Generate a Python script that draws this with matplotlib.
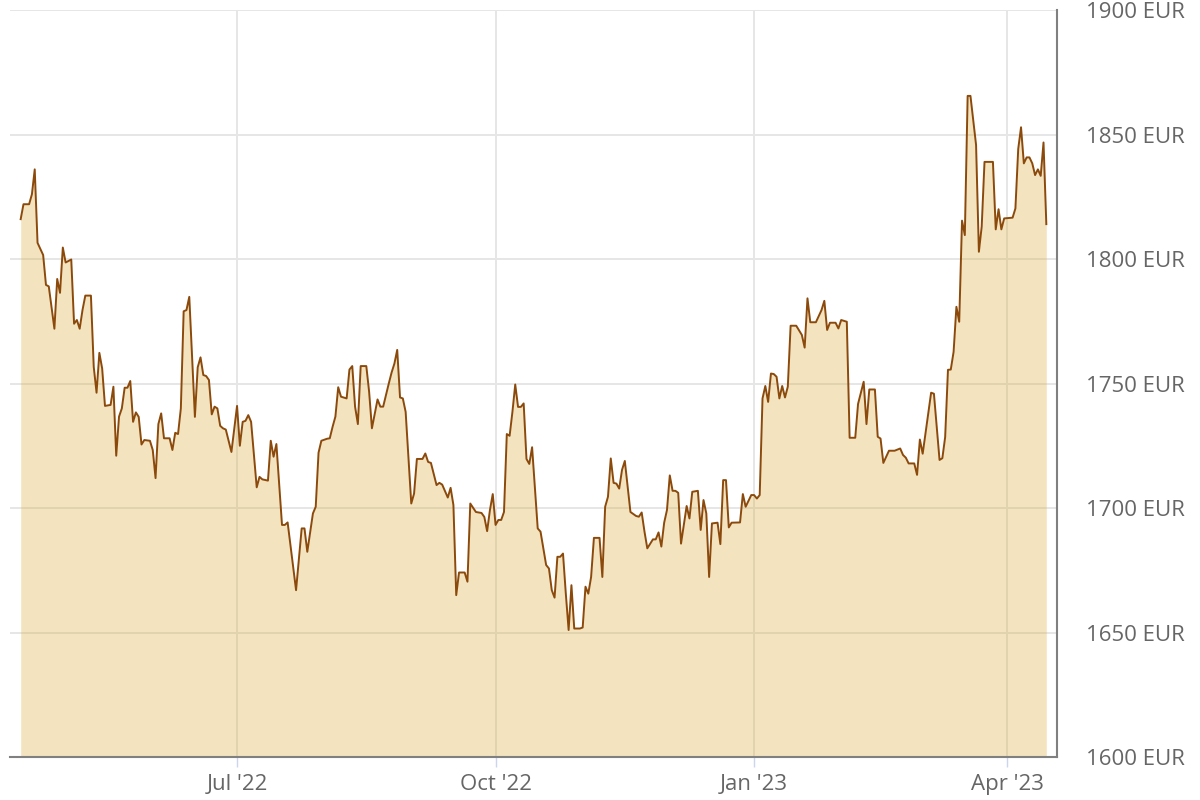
import matplotlib
matplotlib.use("Agg")
import matplotlib.pyplot as plt
import matplotlib.dates as mdates
import pandas as pd

# gold price in EUR, day offsets counted from start_date
start_date = "2022-04-15"
days = [
    0, 1, 3, 4, 5, 6, 8, 9, 10, 12, 13, 14, 15, 16, 18, 19, 20, 21, 22, 23,
    25, 26, 27, 28, 29, 30, 32, 33, 34, 35, 36, 37, 38, 39, 40, 41, 42, 43, 44, 46,
    47, 48, 49, 50, 51, 53, 54, 55, 56, 57, 58, 59, 60, 62, 63, 64, 65, 66, 67, 68,
    69, 70, 71, 72, 73, 75, 77, 78, 79, 80, 81, 82, 84, 85, 86, 88, 89, 90, 91, 93,
    94, 95, 98, 100, 101, 102, 104, 105, 106, 107, 109, 110, 111, 112, 113, 114, 116, 117, 118, 119,
    120, 121, 123, 124, 125, 127, 128, 129, 131, 132, 133, 134, 135, 136, 137, 139, 140, 141, 143, 144,
    145, 146, 148, 149, 150, 152, 153, 154, 155, 156, 158, 159, 160, 162, 164, 165, 166, 167, 168, 169,
    170, 171, 172, 173, 174, 175, 176, 177, 178, 179, 180, 181, 182, 184, 185, 187, 188, 189, 190, 191,
    192, 193, 194, 195, 196, 197, 199, 200, 201, 202, 203, 204, 206, 207, 208, 209, 210, 211, 212, 213,
    214, 215, 216, 217, 219, 220, 221, 222, 223, 225, 226, 227, 228, 229, 230, 231, 232, 233, 234, 235,
    236, 237, 238, 239, 241, 242, 243, 244, 245, 246, 248, 249, 250, 251, 252, 253, 256, 257, 258, 260,
    261, 262, 263, 264, 265, 266, 267, 268, 269, 270, 271, 272, 273, 274, 276, 278, 279, 280, 281, 283,
    285, 286, 287, 288, 290, 291, 292, 294, 295, 297, 298, 300, 301, 302, 304, 305, 306, 307, 309, 311,
    313, 314, 315, 316, 318, 319, 320, 321, 324, 325, 327, 328, 329, 330, 331, 332, 333, 334, 335, 336,
    337, 338, 340, 341, 342, 343, 346, 347, 348, 349, 350, 353, 354, 355, 356, 357, 358, 359, 360, 361,
    362, 363, 364, 365,
]
prices = [
    1816, 1822, 1822, 1826, 1836, 1806.5, 1801.6, 1789.6, 1789, 1772, 1792, 1786.4, 1804.6, 1798.6, 1799.8, 1774, 1775.5, 1772, 1779.5, 1785.3,
    1785.3, 1756.7, 1746.3, 1762.3, 1756, 1741, 1741.4, 1748.7, 1721, 1736.7, 1740, 1748.3, 1748.3, 1751, 1734.6, 1738.4, 1736.6, 1725.5, 1727.3, 1727,
    1723.3, 1712, 1733.7, 1738, 1728, 1728, 1723.3, 1730.2, 1729.7, 1740, 1779, 1779.5, 1784.8, 1736.6, 1756.5, 1760.5, 1753.4, 1753, 1751.4, 1737.6,
    1740.7, 1740, 1733, 1732, 1731.5, 1722.5, 1741, 1725, 1734.6, 1735, 1737.3, 1734.6, 1708.3, 1712.5, 1711.5, 1711, 1727, 1720.6, 1725.7, 1693.2,
    1693.2, 1694.2, 1667, 1691.8, 1691.8, 1682.4, 1697.8, 1700.5, 1722.2, 1727, 1727.8, 1728, 1732.6, 1736.7, 1748.5, 1744.7, 1744, 1755.6, 1757, 1740.7,
    1733.7, 1757, 1757, 1746.7, 1732, 1743.6, 1740.7, 1740.7, 1750, 1754.4, 1758, 1763.5, 1744.4, 1744, 1738.6, 1701.8, 1705.8, 1719.7, 1719.7, 1721.9,
    1718.5, 1718.1, 1709.2, 1710.1, 1709.4, 1704.2, 1708.1, 1701.2, 1665, 1674.1, 1674.1, 1670.4, 1701.8, 1698.4, 1698, 1696.4, 1690.7, 1699.2, 1705.6, 1693.2,
    1695.2, 1695.2, 1698.4, 1729.7, 1729, 1738.6, 1749.6, 1740.6, 1740.6, 1742, 1719.7, 1717.7, 1724.4, 1691.8, 1690.5, 1677.1, 1675.7, 1667, 1664, 1680.4,
    1680.4, 1681.7, 1665.6, 1651, 1669, 1651.6, 1651.6, 1652, 1668.4, 1665.6, 1672.3, 1688, 1688, 1672.3, 1700.5, 1704.5, 1719.9, 1710.1, 1709.8, 1707.8,
    1715.3, 1718.9, 1708.5, 1698.4, 1696.8, 1696.5, 1698.2, 1690.5, 1683.8, 1687.4, 1687.4, 1690.2, 1684.5, 1694.1, 1699.2, 1713.1, 1706.9, 1706.9, 1706.1, 1685.7,
    1693.2, 1700.8, 1695.8, 1706.5, 1706.9, 1691.2, 1703.2, 1697.8, 1672.3, 1693.8, 1694.1, 1685.5, 1711.2, 1711.2, 1692.2, 1694.1, 1694.2, 1705.6, 1700.5, 1705.2,
    1705.2, 1703.8, 1705.2, 1744, 1749, 1742.6, 1754, 1753.8, 1752.7, 1744, 1749, 1744.4, 1748.7, 1773.2, 1773.2, 1769.5, 1764.4, 1784.2, 1774.6, 1774.6,
    1779.5, 1783.2, 1771.5, 1774.4, 1774.4, 1772.1, 1775.5, 1774.8, 1728.2, 1728.2, 1741.8, 1750.7, 1733.7, 1747.6, 1747.6, 1728.6, 1727.9, 1718.1, 1723, 1723,
    1723.9, 1721.3, 1720.2, 1717.9, 1717.9, 1713.3, 1727.5, 1721.8, 1746.3, 1745.9, 1719.3, 1720, 1728.5, 1755.5, 1755.6, 1762.7, 1780.8, 1774.8, 1815.4, 1809.6,
    1865.5, 1865.5, 1845.8, 1802.9, 1813, 1839, 1839, 1811.9, 1820, 1811.9, 1816.3, 1816.6, 1820.3, 1844.2, 1852.9, 1838.4, 1840.8, 1840.8, 1838.4, 1833.7,
    1836, 1833.4, 1846.8, 1814,
]
tick_dates = ["2022-07-01", "2022-10-01", "2023-01-01", "2023-04-01"]
tick_labels = ["Jul '22", "Oct '22", "Jan '23", "Apr '23"]
y_ticks = [1600, 1650, 1700, 1750, 1800, 1850, 1900]

start = pd.Timestamp(start_date)
dates = start + pd.to_timedelta(days, unit="D")

plt.rcParams["font.family"] = ["Open Sans", "DejaVu Sans"]

fig = plt.figure(figsize=(12, 8), dpi=100)
ax = fig.add_axes([10 / 1200, 43 / 800, 1047 / 1200, 747 / 800])

ax.fill_between(dates, prices, 1600, color="#DDB04A", alpha=0.35, linewidth=0, zorder=2)
ax.plot(dates, prices, color="#8B4A0C", linewidth=1.4, zorder=3)

ax.set_ylim(1600, 1900)
ax.set_xlim(start - pd.Timedelta(days=3.8), start + pd.Timedelta(days=368.8))

ax.yaxis.tick_right()
ax.set_yticks(y_ticks)
ax.set_yticklabels([f"{v} EUR" for v in y_ticks])
ax.tick_params(axis="y", length=0, pad=21, labelsize=16, labelcolor="#666666")

ax.set_xticks(pd.to_datetime(tick_dates))
ax.set_xticklabels(tick_labels)
ax.tick_params(axis="x", length=7, width=1, color="#ccd6eb", pad=5,
               labelsize=16, labelcolor="#666666")

ax.grid(True, color="#e6e6e6", linewidth=1.4)
ax.set_axisbelow(True)

for side in ["left", "top"]:
    ax.spines[side].set_visible(False)
for side in ["right", "bottom"]:
    ax.spines[side].set_color("#808080")
    ax.spines[side].set_linewidth(1.5)

fig.savefig("out.png", dpi=100)
